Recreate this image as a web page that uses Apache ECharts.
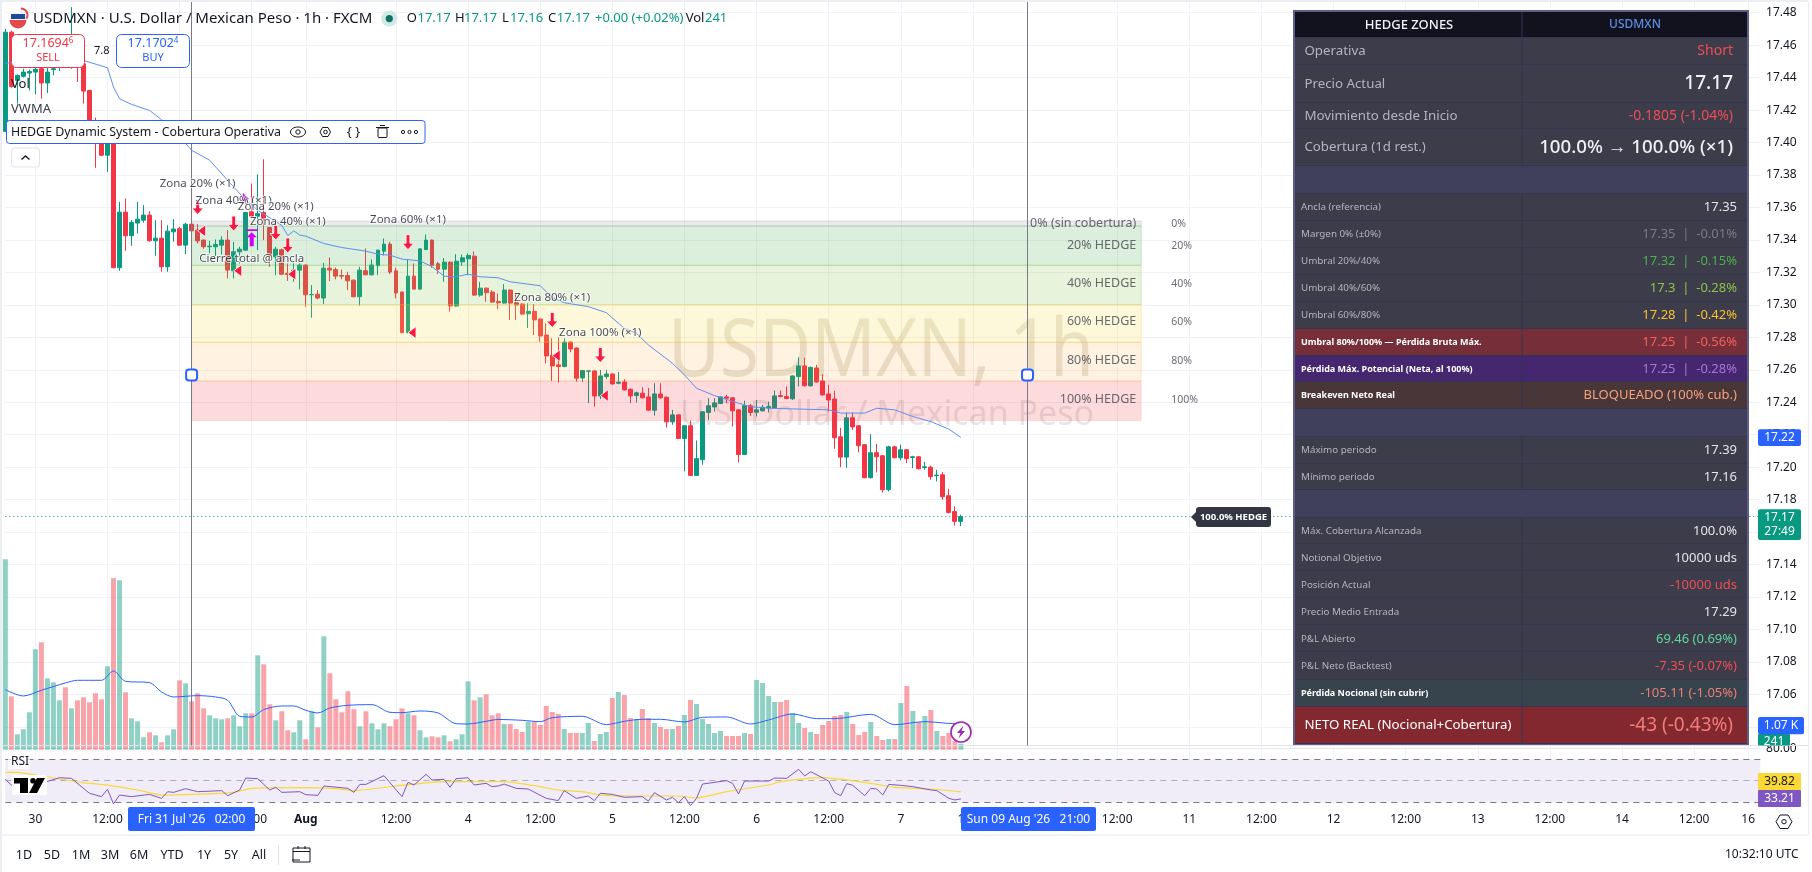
<!DOCTYPE html>
<html><head><meta charset="utf-8">
<style>html,body{margin:0;padding:0;background:#fff}#c{width:1812px;height:872px}</style>
<script src="https://cdn.jsdelivr.net/npm/echarts@6/dist/echarts.min.js"></script>
</head><body><div id="c"></div>
<script>
// ---------- DATA ----------
const candles = [ // open, close, low, high
[17.4069,17.468,17.4065,17.470],[17.468,17.4346,17.4338,17.469],[17.4383,17.4414,17.424,17.442],[17.4408,17.4434,17.44,17.4455],[17.4428,17.4438,17.4322,17.4449],
[17.4434,17.4451,17.4297,17.4485],[17.4455,17.4367,17.427,17.4465],[17.4367,17.4434,17.4305,17.4465],[17.4449,17.4455,17.4414,17.4465],[17.4465,17.4485,17.444,17.4506],
[17.4516,17.4475,17.4465,17.4537],[17.4475,17.4588,17.4455,17.4834],[17.4568,17.4465,17.4373,17.4609],[17.4485,17.4317,17.424,17.4506],[17.4321,17.4137,17.4133,17.4326],
[17.4133,17.4024,17.3844,17.4153],[17.4014,17.3922,17.3916,17.4024],[17.3922,17.4014,17.3819,17.4024],[17.4024,17.3229,17.3225,17.4034],[17.3229,17.3571,17.321,17.3635],
[17.3571,17.3426,17.3333,17.3655],[17.3426,17.3508,17.3364,17.3522],[17.3504,17.3528,17.344,17.3635],[17.3522,17.3553,17.3506,17.3614],[17.3553,17.3395,17.3389,17.3577],
[17.3395,17.3411,17.3303,17.3522],[17.3411,17.3235,17.3204,17.3522],[17.3235,17.3454,17.3204,17.3491],[17.345,17.3467,17.3389,17.3528],[17.3469,17.3368,17.3364,17.3481],
[17.3368,17.3497,17.3313,17.3506],[17.3497,17.3456,17.3452,17.3501],[17.346,17.3394,17.3378,17.3497],[17.3399,17.3358,17.3345,17.3403],[17.3358,17.3362,17.3317,17.3394],
[17.3358,17.3372,17.33,17.3403],[17.3368,17.3399,17.331,17.3423],[17.3399,17.3214,17.3163,17.346],[17.321,17.3327,17.3163,17.3388],[17.3327,17.3343,17.3255,17.3358],
[17.3337,17.3569,17.3333,17.3573],[17.3573,17.3546,17.3542,17.3747],[17.3546,17.3562,17.3337,17.3804],[17.3569,17.3532,17.3399,17.3897],[17.3476,17.3306,17.3234,17.3481],
[17.3296,17.3343,17.3183,17.3358],[17.3339,17.3189,17.3183,17.3347],[17.3194,17.3187,17.3148,17.3255],[17.3189,17.3214,17.3142,17.3255],[17.3214,17.3245,17.3095,17.3255],
[17.3245,17.3062,17.2988,17.3249],[17.3062,17.3064,17.2921,17.3122],[17.3066,17.3042,17.3034,17.3091],[17.3042,17.3226,17.3005,17.3259],[17.3226,17.3214,17.3146,17.3292],
[17.3218,17.3177,17.3157,17.323],[17.3181,17.3177,17.3157,17.3218],[17.3181,17.3148,17.3091,17.3204],[17.3152,17.305,17.3046,17.3157],[17.305,17.3214,17.2995,17.3235],
[17.321,17.3185,17.3183,17.3347],[17.3185,17.3245,17.3181,17.328],[17.3241,17.3337,17.3183,17.3341],[17.3331,17.3374,17.3304,17.3409],[17.3374,17.3202,17.3189,17.3388],
[17.321,17.3073,17.304,17.323],[17.3079,17.2829,17.2825,17.3083],[17.2829,17.3177,17.2825,17.328],[17.3177,17.3097,17.3095,17.3255],[17.3097,17.3345,17.3091,17.3349],
[17.3341,17.3399,17.3337,17.3433],[17.3399,17.3243,17.3228,17.3403],[17.3253,17.322,17.3189,17.3265],[17.322,17.3263,17.3142,17.3288],[17.3263,17.2993,17.2958,17.3267],
[17.2993,17.3269,17.2988,17.3312],[17.3265,17.329,17.3241,17.331],[17.3284,17.3304,17.3183,17.3317],[17.33,17.306,17.3056,17.3329],[17.306,17.3103,17.305,17.3142],
[17.3103,17.3075,17.3019,17.3107],[17.3079,17.3017,17.3013,17.3091],[17.3021,17.3013,17.2974,17.307],[17.3011,17.3091,17.3007,17.3128],[17.3091,17.3011,17.2906,17.3095],
[17.3013,17.2999,17.2906,17.307],[17.3005,17.2943,17.2937,17.3009],[17.2945,17.296,17.2857,17.3009],[17.296,17.2907,17.2814,17.3005],[17.2913,17.2808,17.2773,17.2917],
[17.2814,17.2685,17.264,17.2886],[17.2689,17.2624,17.2531,17.2794],[17.263,17.262,17.2521,17.28],[17.262,17.2771,17.2615,17.2794],[17.2771,17.2728,17.2708,17.2775],
[17.2734,17.2548,17.2527,17.2738],[17.255,17.2595,17.2525,17.2599],[17.2591,17.2593,17.2394,17.2595],[17.2593,17.2439,17.2373,17.2595],[17.2439,17.2562,17.2419,17.2599],
[17.2558,17.2574,17.2542,17.2599],[17.2574,17.2513,17.2507,17.2578],[17.2517,17.2523,17.2511,17.2587],[17.2525,17.2476,17.2472,17.2542],[17.248,17.2439,17.2394,17.2484],
[17.2441,17.2458,17.2398,17.2466],[17.2456,17.2427,17.2423,17.2492],[17.2433,17.2351,17.2347,17.2488],[17.2351,17.2451,17.2318,17.2517],[17.2451,17.2427,17.2423,17.2517],
[17.2431,17.2279,17.2244,17.2435],[17.2279,17.2322,17.2261,17.2353],[17.2322,17.2177,17.2173,17.2326],[17.2177,17.2255,17.1974,17.2259],[17.2255,17.1949,17.1945,17.2287],
[17.1949,17.2052,17.1945,17.2164],[17.2046,17.2341,17.2015,17.2345],[17.2337,17.2378,17.2292,17.2425],[17.2371,17.2396,17.2343,17.2425],[17.2392,17.2433,17.2388,17.2435],
[17.2433,17.2425,17.2394,17.2445],[17.2427,17.2347,17.225,17.2431],[17.2353,17.2078,17.2029,17.2357],[17.2078,17.2378,17.2074,17.241],[17.2378,17.2337,17.2316,17.239],
[17.2339,17.2353,17.2312,17.2414],[17.2347,17.2369,17.2343,17.2384],[17.2365,17.2373,17.2337,17.2404],[17.2365,17.2439,17.2361,17.2472],[17.2441,17.2435,17.2431,17.2472],
[17.2435,17.2423,17.2419,17.2497],[17.2421,17.2562,17.2415,17.2566],[17.2558,17.2624,17.2497,17.2677],[17.2624,17.2501,17.2497,17.2675],[17.2501,17.2615,17.2497,17.2619],
[17.2611,17.2525,17.2521,17.263],[17.2531,17.2445,17.2441,17.2572],[17.2451,17.2414,17.2343,17.2507],[17.242,17.2181,17.2113,17.247],[17.2187,17.2062,17.2,17.2242],
[17.2062,17.2304,17.1996,17.2337],[17.2304,17.2248,17.223,17.2337],[17.2255,17.2132,17.2091,17.2259],[17.2138,17.1935,17.1931,17.2142],[17.1935,17.2089,17.1931,17.2203],
[17.2089,17.2064,17.1968,17.2144],[17.207,17.1861,17.1843,17.2074],[17.1861,17.2125,17.1851,17.2132],[17.2125,17.2058,17.2054,17.2132],[17.2058,17.2107,17.2041,17.2138],
[17.2107,17.2052,17.2025,17.2111],[17.206,17.2064,17.1994,17.207],[17.2064,17.199,17.1986,17.2068],[17.1998,17.2002,17.1984,17.2033],[17.2,17.1941,17.1922,17.2009],
[17.1947,17.1951,17.1912,17.1984],[17.1953,17.1818,17.1799,17.197],[17.1824,17.172,17.1716,17.1867],[17.1726,17.1666,17.164,17.1759],[17.1666,17.1695,17.1636,17.1707]];
const volumes = [7615,2137,617,817,1497,4017,4297,2857,2697,1977,2497,1657,1977,2097,1897,2257,2017,3337,6857,6777,2297,1257,1137,497,697,577,297,577,817,2777,2657,1937,2257,1657,1377,1257,1217,1257,1377,937,1457,1457,3777,3417,1817,1177,1537,777,697,1177,417,1537,897,4537,3057,2017,1497,2337,1617,937,1537,1057,817,1057,937,1217,1657,1457,1377,777,497,537,497,577,337,417,617,2737,1977,2097,2217,1377,1457,
1030,1030,830,710,1123,1123,990,1750,1510,1430,830,670,670,670,1070,350,630,710,2070,2310,2190,1270,1230,1630,1270,1070,910,830,830,950,1390,1990,1830,1230,1030,670,750,550,550,550,670,630,2790,2670,2150,1910,1910,1990,1470,1070,870,710,630,990,1150,1350,1390,1510,1030,590,710,1110,550,390,430,430,1870,2550,1550,1110,1350,1590,750,550,670,350,241];
const vwmaKnots = [[0,17.449],[13,17.4506],[17,17.4461],[18,17.4342],[19,17.427],[21,17.4235],[24,17.4198],[26,17.4141],[30,17.3994],[31,17.3952],[34,17.3891],[37,17.3767],[40,17.3645],[42,17.3583],[46,17.349],[47,17.3427],[48,17.3456],[49,17.343],[50,17.3423],[53,17.3378],[56,17.3353],[60,17.3331],[62,17.3312],[64,17.3306],[66,17.3282],[69,17.3271],[71,17.3235],[73,17.3177],[75,17.3173],[77,17.3189],[79,17.3173],[82,17.3167],[84,17.3142],[89,17.3118],[91,17.3044],[93,17.3013],[97,17.2989],[100,17.2952],[103,17.2855],[105,17.2825],[107,17.2753],[111,17.264],[113,17.2568],[115,17.2486],[118,17.2441],[122,17.2394],[124,17.2373],[127,17.2363],[133,17.2357],[137,17.2353],[139,17.2333],[143,17.2333],[145,17.2363],[148,17.2353],[151,17.2312],[154,17.2281],[157,17.2234],[159,17.2183]];
const volMaKnots = [[0,2403],[3,2150],[6,2377],[10,2670],[12,2777],[16,2777],[18,3150],[20,2737],[24,2683],[26,2310],[28,2110],[32,2163],[35,2110],[37,1977],[39,1337],[41,1310],[43,1603],[46,1750],[48,1750],[50,1577],[52,1470],[54,1670],[57,1777],[61,1803],[64,1497],[66,1483],[69,1550],[72,1470],[75,1043],[77,1030],[80,1137],[82,1210],[86,1177],[89,1123],[91,1283],[96,1337],[100,1003],[103,1137],[106,1217],[109,1217],[113,1110],[116,1297],[120,1310],[124,1030],[127,1190],[131,1430],[135,1243],[138,1243],[144,1417],[148,1003],[153,1123],[158,1043],[159,1070]];
const rsiKnots = [[0,51.4],[1,46.1],[3,43],[6,47.7],[9,52.9],[11,52.3],[14,38.4],[16,35.3],[17,42.1],[18,28.5],[19,36.8],[21,35.3],[24,37.4],[26,33.7],[27,39.9],[28,39.3],[30,42.7],[32,39.9],[36,40.9],[37,36.2],[39,41.5],[40,52.6],[42,52],[44,41.5],[45,44],[46,39.3],[49,39.9],[50,37.1],[52,36.5],[53,45.2],[57,43],[58,39.3],[59,46.7],[60,46.7],[63,54.8],[66,35.3],[67,48.6],[68,46.1],[70,56],[71,50.8],[73,51.4],[74,44],[75,52],[77,52.9],[78,46.1],[80,47.7],[81,44.6],[82,45.2],[83,47],[85,43],[87,42.4],[90,33.7],[92,31.6],[93,40.9],[95,33.7],[97,35.9],[98,31.6],[99,38.4],[101,37.4],[103,34.7],[106,35.3],[107,31.2],[108,39],[110,32.2],[111,34.7],[112,29.7],[113,35.3],[114,26.9],[115,33.7],[116,47],[120,50.2],[121,47.7],[122,37.8],[123,49.8],[127,49.8],[128,52.6],[130,52.3],[132,60.7],[133,54.5],[134,58.5],[137,49.8],[138,39],[139,36.2],[140,47.4],[141,45.8],[143,36.2],[144,43],[145,42.4],[146,36.8],[147,46.7],[149,45.8],[151,44.6],[154,41.5],[155,40.9],[157,33.7],[158,32.2],[159,33.21]];
const rsiMaKnots = [[0,57.9],[2,57.9],[6,54.5],[13,48.3],[17,46.1],[22,41.5],[26,36.8],[31,37.4],[38,39.3],[41,43],[49,43.6],[55,42.7],[58,40.9],[65,45.2],[73,49.2],[83,49.2],[88,45.5],[92,41.5],[96,39.9],[99,36.8],[106,35.9],[112,35.9],[115,34],[120,39.9],[127,46.1],[129,49.2],[136,52.9],[144,47.7],[148,44],[154,42.4],[159,39.82]];
const priceTicks = [17.48,17.46,17.44,17.42,17.40,17.38,17.36,17.34,17.32,17.30,17.28,17.26,17.24,17.22,17.20,17.18,17.16,17.14,17.12,17.10,17.08,17.06,17.04];
const rsiTicks = [80,60,40];
const timeTickIndex = [5,17,29,41,50,65,77,89,101,113,125,137,149,161,185,197,209,221,233,245,257,269,281,290];
const timeTickLabels = ['30','12:00','31','12:00','Aug','12:00','4','12:00','5','12:00','6','12:00','7','12:00','12:00','11','12:00','12','12:00','13','12:00','14','12:00','16'];
const anchorBarIndex = 31, endBarIndex = 170, zoneEndIndex = 189;
const zoneBounds = [17.3517,17.3486,17.3244,17.3001,17.2769,17.2531,17.2286];
const zoneNames = ['0% (sin cobertura)','20% HEDGE','40% HEDGE','60% HEDGE','80% HEDGE','100% HEDGE'];
const zoneShort = ['0%','20%','40%','60%','80%','100%'];
const zoneLabelPrices = [17.350,17.3365,17.313,17.2895,17.2655,17.2415];
const lastPrice = 17.17;
const sellArrows = [[32,17.3603],[38,17.3501],[45,17.3446],[47,17.3366],[67,17.3386],[91,17.2907],[99,17.2691]];
const leftFlags = [[33,17.3456],[39,17.321],[48,17.3189],[68,17.2829],[92,17.2687],[100,17.2441]];
const rightFlag = [[40,17.3653]];
const closeMark = [[41,17.3413]];
const tradeNotes = [[32,17.3744,'Zona 20% (×1)'],[38,17.3639,'Zona 40% (×1)'],[45,17.3602,'Zona 20% (×1)'],[47,17.351,'Zona 40% (×1)'],[41,17.3282,'Cierre total @ ancla'],[67,17.3522,'Zona 60% (×1)'],[91,17.3042,'Zona 80% (×1)'],[99,17.2828,'Zona 100% (×1)']];
const tableLabels = ['HEDGE ZONES','Operativa','Precio Actual','Movimiento desde Inicio','Cobertura (1d rest.)','','Ancla (referencia)','Margen 0% (±0%)','Umbral 20%/40%','Umbral 40%/60%','Umbral 60%/80%','Umbral 80%/100% — Pérdida Bruta Máx.','Pérdida Máx. Potencial (Neta, al 100%)','Breakeven Neto Real','','Máximo periodo','Mínimo periodo','','Máx. Cobertura Alcanzada','Notional Objetivo','Posición Actual','Precio Medio Entrada','P&L Abierto','P&L Neto (Backtest)','Pérdida Nocional (sin cubrir)','NETO REAL (Nocional+Cobertura)'];
const tableValues = ['USDMXN','Short','17.17','-0.1805 (-1.04%)','100.0% → 100.0% (×1)','','17.35','17.35  |  -0.01%','17.32  |  -0.15%','17.3  |  -0.28%','17.28  |  -0.42%','17.25  |  -0.56%','17.25  |  -0.28%','BLOQUEADO (100% cub.)','','17.39','17.16','','100.0%','10000 uds','-10000 uds','17.29','69.46 (0.69%)','-7.35 (-0.07%)','-105.11 (-1.05%)','-43 (-0.43%)'];
const rangeButtons = ['1D','5D','1M','3M','6M','YTD','1Y','5Y','All'];

// ---------- LAYOUT / STYLE ----------
const UP='#089981', DOWN='#f23645', INK='#131722', GRID='#f0f2f5', FONT='"Noto Sans",sans-serif';
const bottomOf=(i)=>candles[i][1]>=candles[i][0];
const categories = Array.from({length:293},(_,i)=>String(i));
const tickSet = new Set(timeTickIndex);
const labelAt = {}; timeTickIndex.forEach((k,i)=>labelAt[k]=timeTickLabels[i]);
const G={left:5.33,right:1812-1760.25};
const zoneFill=['rgba(120,123,134,.15)','rgba(76,175,80,.2)','rgba(139,195,74,.2)','rgba(250,220,70,.2)','rgba(255,152,0,.12)','rgba(242,54,69,.18)'];
const zoneEdge=['rgba(120,123,134,.2)','rgba(76,175,80,.25)','rgba(139,195,74,.25)','rgba(250,200,60,.3)','rgba(255,152,0,.2)','rgba(242,54,69,.1)'];

const g=[];
const rect=(x,y,w,h,fill,z,o={})=>g.push({type:'rect',silent:true,z,shape:{x,y,width:w,height:h,r:o.r||0},style:{fill,stroke:o.stroke,lineWidth:o.lw||1}});
const text=(x,y,t,o={})=>g.push({type:'text',silent:true,z:o.z||60,x,y,scaleX:o.sx||1,style:{text:t,fill:o.c||INK,font:`${o.w||'normal'} ${o.s||12}px ${FONT}`,textAlign:o.a||'left',textVerticalAlign:'middle',opacity:o.op==null?1:o.op,rich:o.rich}});
const poly=(pts,fill,z,o={})=>g.push({type:o.line?'polyline':'polygon',silent:true,z,shape:{points:pts},style:{fill:o.line?'none':fill,stroke:o.stroke,lineWidth:o.lw||1}});
const circ=(x,y,r,fill,z,o={})=>g.push({type:'circle',silent:true,z,shape:{cx:x,cy:y,r},style:{fill,stroke:o.stroke,lineWidth:o.lw||1}});
const hline=(x1,x2,y,c,z,lw)=>g.push({type:'line',silent:true,z,shape:{x1,y1:y,x2,y2:y},style:{stroke:c,lineWidth:lw||1}});
const vline=(x,y1,y2,c,z,lw)=>g.push({type:'line',silent:true,z,shape:{x1:x,y1,x2:x,y2},style:{stroke:c,lineWidth:lw||1}});

// frame
rect(0,0,1808,2,'#eceef2',40); rect(0,0,2,872,'#eceef2',40);
hline(2,1808,745.5,'#e0e3eb',3); hline(2,1808,835,'#e6e8ee',3);
vline(1808.5,2,835,'#eceef2',3);

// watermark
text(881,353,'USDMXN, 1h',{s:80,a:'center',c:'rgba(110,85,40,.16)',z:1,sx:.89});
text(887,415,'U.S. Dollar / Mexican Peso',{s:34,a:'center',c:'rgba(110,110,110,.17)',z:1});

// legend header
circ(18,20,8.5,'#f5f5f5',45); 
g.push({type:'sector',silent:true,z:46,shape:{cx:18,cy:20,r:8.5,startAngle:0,endAngle:Math.PI},style:{fill:'#e5484d'}});
rect(11,14,14,5,'#1f4a99',46); rect(11,20,14,1.5,'#e5484d',46); rect(11,23,14,1.5,'#e5484d',46);
g.push({type:'arc',silent:true,z:46,shape:{cx:21,cy:15,r:6.5,startAngle:-1.6,endAngle:0.6},style:{stroke:'#e5484d',lineWidth:2,fill:'none'}});
text(33,19,'USDMXN · U.S. Dollar / Mexican Peso · 1h · FXCM',{s:15,z:46});
circ(389.3,18.6,8,'#cfe9e4',46); circ(389.3,18.6,3.6,'#0e7163',47);
[[406.7,'O',0],[417.5,'17.17',1],[455,'H',0],[464,'17.17',1],[502,'L',0],[510,'17.16',1],[548,'C',0],[556.7,'17.17',1],[595,'+0.00 (+0.02%)',1],[685.7,'Vol',0],[705,'241',1]].forEach(a=>text(a[0],18.6,a[1],{s:13,z:46,c:a[2]?UP:INK}));

// buy / sell
rect(11.5,34.5,73,33,'#fff',46,{r:5,stroke:DOWN});
text(48,43,'17.1694{s|6}',{s:12.5,a:'center',c:DOWN,z:47,rich:{s:{fontSize:8,fill:DOWN,verticalAlign:'top',fontFamily:FONT}}});
text(48,58,'SELL',{s:11,a:'center',c:DOWN,z:47});
rect(116.5,34.5,73,33,'#fff',46,{r:5,stroke:'#2962ff'});
text(153,43,'17.1702{s|4}',{s:12.5,a:'center',c:'#2962ff',z:47,rich:{s:{fontSize:8,fill:'#2962ff',verticalAlign:'top',fontFamily:FONT}}});
text(153,58,'BUY',{s:11,a:'center',c:'#2962ff',z:47});
text(94,50.5,'7.8',{s:11,z:47});
text(11,84.5,'Vol',{s:13,z:47}); text(11,109,'VWMA',{s:13,z:47,c:'#3a3e4c'});

// indicator tool bar
rect(6.5,120.5,418.5,23,'#fff',46,{r:3,stroke:'#2962ff'});
text(11,132.5,'HEDGE Dynamic System - Cobertura Operativa',{s:12.4,z:47});
g.push({type:'ellipse',silent:true,z:47,shape:{cx:298,cy:132,rx:7.5,ry:5},style:{fill:'none',stroke:INK,lineWidth:1}});
circ(298,132,2.2,'none',47,{stroke:INK});
poly([[320,132],[322.5,127.5],[328,127.5],[330.5,132],[328,136.5],[322.5,136.5]],'none',47,{stroke:INK});
circ(325.5,132,1.8,'none',47,{stroke:INK});
text(353.5,132,'{ }',{s:13,a:'center',z:47});
rect(378,128,9,9.5,'none',47,{stroke:INK,r:1}); hline(376,389,127.5,INK,47); hline(380,385,125.5,INK,47);
circ(403,132,1.6,'none',47,{stroke:INK}); circ(409.5,132,1.6,'none',47,{stroke:INK}); circ(416,132,1.6,'none',47,{stroke:INK});
rect(11.5,148,28,19,'#fff',46,{r:3,stroke:'#e0e3eb'});
poly([[21.5,159.5],[25.5,156],[29.5,159.5]],'none',47,{line:true,stroke:INK,lw:1.4});

// drawing handles
[191.6,1027.5].forEach(x=>rect(x-5.5,369.5,11,11,'#fff',30,{r:3,stroke:'#2962ff',lw:2}));

// last price tag
poly([[1191,517],[1196,512],[1196,522]],'#333743',32);
rect(1196,507,75,20,'#333743',32,{r:3});
text(1233.5,517,'100.0% HEDGE',{s:9.5,a:'center',c:'#fff',w:'bold',z:33});

// lightning
circ(961,732,10,'rgba(255,255,255,.9)',34,{stroke:'#9c27b0',lw:1.6});
poly([[963.5,725.5],[957,733],[960.5,733],[958.5,738.5],[965,731],[961.5,731]],'#9c27b0',35);

// RSI legend + logo
rect(8,755,22,14,'rgba(255,255,255,.75)',31); text(11,762,'RSI',{s:12,z:32});
rect(12,775,35,20,'#fff',31,{r:2});
poly([[14,778],[28,778],[28,793],[20,793],[20,783.5],[14,783.5]],'#000',32);
circ(33,780.7,2.8,'#000',32);
poly([[37,778],[45,778],[37,793],[29,793]],'#000',32);

// axis tags
const TAG=1758, TAGC=1779.5;
rect(TAG,429.3,43,16.7,'#2962ff',36,{r:2}); text(TAGC,437.8,'17.22',{s:12,a:'center',c:'#fff',z:37});
rect(TAG,509.3,43,30.7,UP,36,{r:2}); text(TAGC,517.8,'17.17',{s:12,a:'center',c:'#fff',z:37}); text(TAGC,531.5,'27:49',{s:12,a:'center',c:'#fff',z:37});
rect(TAG,734,32,11.5,UP,35,{r:1}); text(1774,741.5,'241',{s:12,a:'center',c:'#fff',z:36});
rect(TAG,717,46,17.3,'#2962ff',36,{r:2}); text(1781,725.8,'1.07 K',{s:12,a:'center',c:'#fff',z:37});
rect(TAG,773,43,17,'#fbd835',36,{r:1}); text(TAGC,781.7,'39.82',{s:12,a:'center',z:37});
rect(TAG,790,43,17,'#7e57c2',36,{r:1}); text(TAGC,798.7,'33.21',{s:12,a:'center',c:'#fff',z:37});

// crosshair date labels
rect(128,807,127,24,'#2962ff',36,{r:2}); text(191.5,819.5,"Fri 31 Jul '26   02:00",{s:12,a:'center',c:'#fff',z:37});
rect(961,807,135,24,'#2962ff',36,{r:2}); text(1028.5,819.5,"Sun 09 Aug '26   21:00",{s:12,a:'center',c:'#fff',z:37});

// range bar
[24,52,81,110,139,172,204,231,259].forEach((x,i)=>text(x,855,rangeButtons[i],{s:12.5,a:'center',z:37}));
vline(278.5,845,865,'#e0e3eb',37);
rect(293,848,17,14,'none',37,{stroke:INK}); hline(293,310,851.5,INK,37); vline(298,846,849,INK,37); vline(305,846,849,INK,37);
hline(292,300,860,INK,38);
text(1798.5,855,'10:32:10 UTC',{s:12,a:'right',z:37});
// settings hexagon
poly([[1776,821.7],[1780,815],[1788,815],[1792,821.7],[1788,828.5],[1780,828.5]],'none',37,{stroke:INK});
circ(1784,821.7,2.2,'none',37,{stroke:INK});

// table
const rowTops=[12,38,65,103,129,166,194,221,248,275,302,329,356,382,409,437,464,490,518,544.5,571.5,598.5,625.5,652.5,680,707,744];
const rowBg=['#12121f','#3d3c4b','#3d3c4b','#3d3c4b','#3d3c4b','#40405c','#3d3c4b','#3d3c4b','#3d3c4b','#3d3c4b','#3d3c4b','#762f38','#44276e','#483638','#40405c','#3d3c4b','#3d3c4b','#40405c','#3d3c4b','#3d3c4b','#3d3c4b','#3d3c4b','#3d3c4b','#3d3c4b','#38444d','#842830'];
const valColor=['#5b8fe0','#ef4d55','#f0f0f2','#ef4d55','#f0f0f2','','#e4e4e8','#787b86','#4caf50','#8bc34a','#fbc02d','#f2615f','#ab75d8','#f7a27c','','#e4e4e8','#e4e4e8','','#e4e4e8','#e4e4e8','#ef4d55','#e4e4e8','#5fd79e','#f04d50','#ef7d76','#ef7d78'];
const valSize=[12,14,19,14,18.7,0,13,13,13,13,13,13,13,13,0,13,13,0,13,13,13,13,13,13,13,19];
const lblSize=[13,13.3,13.3,13.3,13.3,0,9.8,9.8,9.8,9.8,9.8,9,9,9,0,9.8,9.8,0,9.8,9.8,9.8,9.8,9.8,9.8,9,13.3];
const whiteRows=new Set([11,12,13,24,25]);
rect(1293,10,456,735,'#5d5d85',50);
tableLabels.forEach((lab,i)=>{
  const y=rowTops[i],h=rowTops[i+1]-y,cy=y+h/2;
  rect(1295,y,452,h,rowBg[i],51);
  hline(1295,1747,y+h-.5,'#353550',52);
  if(i!==5&&i!==14&&i!==17) vline(1522,y,y+h,'#353550',52);
  if(!lab) return;
  const big=lblSize[i]>=13;
  if(i===0){
    text(1409,cy,lab,{s:lblSize[i],a:'center',c:'#f2f2f4',z:53,w:'500'});
    text(1635,cy,tableValues[i],{s:valSize[i],a:'center',c:valColor[i],z:53,w:'500'});
    return;
  }
  text(big?1304.4:1301,cy,lab,{s:lblSize[i],c:whiteRows.has(i)?'#ffffff':'#b2b5be',w:(whiteRows.has(i)&&!big)?'bold':'normal',z:53});
  text(big?1733:1737,cy,tableValues[i],{s:valSize[i],a:'right',c:valColor[i],z:53,w:(i===2||i===4)?'500':'normal'});
});

// ---------- OPTION ----------
const xAxisBase=(gridIndex)=>({type:'category',gridIndex,data:categories,boundaryGap:false,axisLine:{show:false},axisTick:{show:false},axisLabel:{show:false},splitLine:{show:true,interval:(i)=>tickSet.has(i),lineStyle:{color:GRID,width:1}}});
const scatterBase={type:'scatter',xAxisIndex:0,yAxisIndex:0,silent:true};
const hiddenDot={symbolSize:1,itemStyle:{color:'rgba(0,0,0,0)'},clip:false};
const option={
  animation:false,backgroundColor:'#fff',textStyle:{fontFamily:FONT},
  grid:[
    {left:G.left,right:G.right,top:2,height:743.5},
    {left:G.left,right:G.right,top:445.3,height:300},
    {left:G.left,right:G.right,top:746,height:60}
  ],
  xAxis:[xAxisBase(0),{...xAxisBase(1),splitLine:{show:false}},{...xAxisBase(2),
    axisLabel:{show:true,interval:(i)=>tickSet.has(i),margin:8,fontSize:12,color:INK,fontFamily:FONT,
      formatter:(v,i)=>{const t=labelAt[i]||'';return t==='Aug'?'{b|Aug}':t;},rich:{b:{fontWeight:'bold',fontSize:12,color:INK,fontFamily:FONT}}}}],
  yAxis:[
    {type:'value',gridIndex:0,position:'right',min:17.4866-0.4581,max:17.4866,scale:true,axisLine:{show:false},
     axisTick:{show:false,customValues:priceTicks},
     axisLabel:{customValues:priceTicks,margin:5.8,fontSize:12,color:INK,fontFamily:FONT,formatter:(v)=>v.toFixed(2)},
     splitLine:{show:true,customValues:priceTicks,lineStyle:{color:GRID,width:1}}},
    {type:'value',gridIndex:1,min:177,max:177+12000,show:false,splitLine:{show:false}},
    {type:'value',gridIndex:2,position:'right',min:26.6,max:82.4,axisLine:{show:false},axisTick:{show:false,customValues:rsiTicks},
     axisLabel:{customValues:[80],margin:5.8,fontSize:12,color:INK,fontFamily:FONT,formatter:(v)=>v.toFixed(2)},
     splitLine:{show:true,customValues:rsiTicks,lineStyle:{color:'#e6e6ee',width:1}}}
  ],
  graphic:{elements:g},
  series:[
    {type:'bar',name:'Vol',xAxisIndex:1,yAxisIndex:1,barWidth:5,clip:false,z:2,silent:true,
      data:volumes.map((v,i)=>({value:v,itemStyle:{color:bottomOf(i)?'rgba(8,153,129,.45)':'rgba(242,54,69,.45)'}}))},
    {type:'line',name:'Vol MA',xAxisIndex:1,yAxisIndex:1,data:volMaKnots,symbol:'none',smooth:.3,clip:false,z:3,silent:true,lineStyle:{color:'#2962ff',width:1}},
    {type:'candlestick',name:'USDMXN',xAxisIndex:0,yAxisIndex:0,data:candles,barWidth:4.4,clip:false,z:2,silent:true,
      itemStyle:{color:UP,color0:DOWN,borderColor:UP,borderColor0:DOWN,borderWidth:1},
      markLine:{silent:true,symbol:'none',z:2,label:{show:false},lineStyle:{color:UP,type:[1,3],width:1},data:[{yAxis:lastPrice}]}},
    {type:'line',name:'Zones',xAxisIndex:0,yAxisIndex:0,data:[[anchorBarIndex,zoneBounds[0]]],symbol:'none',z:3,silent:true,
      markArea:{silent:true,z:3,data:zoneFill.map((c,i)=>[{xAxis:String(anchorBarIndex),yAxis:zoneBounds[i],itemStyle:{color:c,borderColor:zoneEdge[i],borderWidth:1}},{xAxis:String(zoneEndIndex),yAxis:zoneBounds[i+1]}])},
      markLine:{silent:true,symbol:'none',z:4,label:{show:false},lineStyle:{color:'#787b86',type:'solid',width:1},data:[{xAxis:String(anchorBarIndex)},{xAxis:String(endBarIndex)}]}},
    {type:'line',name:'VWMA',xAxisIndex:0,yAxisIndex:0,data:vwmaKnots,symbol:'none',clip:false,z:4,silent:true,lineStyle:{color:'#5d8ff0',width:1}},
    {...scatterBase,...hiddenDot,name:'Zone names',z:7,
      data:zoneNames.map((n,i)=>({value:[188,zoneLabelPrices[i]],name:n})),
      label:{show:true,position:'inside',align:'right',formatter:'{b}',fontSize:12.5,color:'#434651',fontFamily:FONT,offset:[1,0]}},
    {...scatterBase,...hiddenDot,name:'Zone pct',z:7,
      data:zoneShort.map((n,i)=>({value:[194,zoneLabelPrices[i]],name:n})),
      label:{show:true,position:'inside',align:'left',formatter:'{b}',fontSize:10.5,color:'#434651',fontFamily:FONT}},
    {...scatterBase,...hiddenDot,name:'Notes',z:9,
      data:tradeNotes.map(n=>({value:[n[0],n[1]],name:n[2]})),
      label:{show:true,position:'inside',formatter:'{b}',fontSize:11.5,color:'#1a1d28',fontFamily:FONT,textBorderColor:'rgba(255,255,255,.85)',textBorderWidth:2}},
    {...scatterBase,name:'Arrows',z:8,data:sellArrows,symbol:'path://M4 0H8V8H12L6 14L0 8H4Z',symbolSize:[11.5,15],symbolKeepAspect:false,itemStyle:{color:'#f7193f',borderColor:'#fff',borderWidth:.8,opacity:1}},
    {...scatterBase,name:'Flags',z:8,data:leftFlags,symbol:'path://M10 0V12L0 6Z',symbolSize:[8,12],symbolOffset:[-2,0],itemStyle:{color:'#f7193f',borderColor:'#fff',borderWidth:.8,opacity:1}},
    {...scatterBase,name:'RFlag',z:8,data:rightFlag,symbol:'path://M0 0L10 6L0 12Z',symbolSize:[6,12],itemStyle:{color:'#d500f9',opacity:1}},
    {...scatterBase,name:'Close',z:8,data:closeMark,symbol:'path://M0 0H12V1.6H0ZM6 3L11 8H8V17H4V8H1Z',symbolSize:[12,17],itemStyle:{color:'#d500f9',opacity:1}},
    {type:'line',name:'RSI',xAxisIndex:2,yAxisIndex:2,data:rsiKnots,symbol:'none',clip:false,z:4,silent:true,lineStyle:{color:'#7e57c2',width:1},
      markArea:{silent:true,z:1,itemStyle:{color:'#f0ecf8'},data:[[{yAxis:70},{yAxis:30}]]},
      markLine:{silent:true,symbol:'none',z:3,label:{show:false},data:[
        {yAxis:70,lineStyle:{color:'#787b86',type:[6,5],width:1}},
        {yAxis:50.5,lineStyle:{color:'rgba(120,123,134,.55)',type:[6,5],width:1}},
        {yAxis:30,lineStyle:{color:'#787b86',type:[6,5],width:1}}]}},
    {type:'line',name:'RSI MA',xAxisIndex:2,yAxisIndex:2,data:rsiMaKnots,symbol:'none',smooth:.2,clip:false,z:3,silent:true,lineStyle:{color:'#fdd835',width:1.2}}
  ]
};
const chart=echarts.init(document.getElementById('c'),null,{renderer:'canvas',width:1812,height:872});
chart.setOption(option);
</script></body></html>
